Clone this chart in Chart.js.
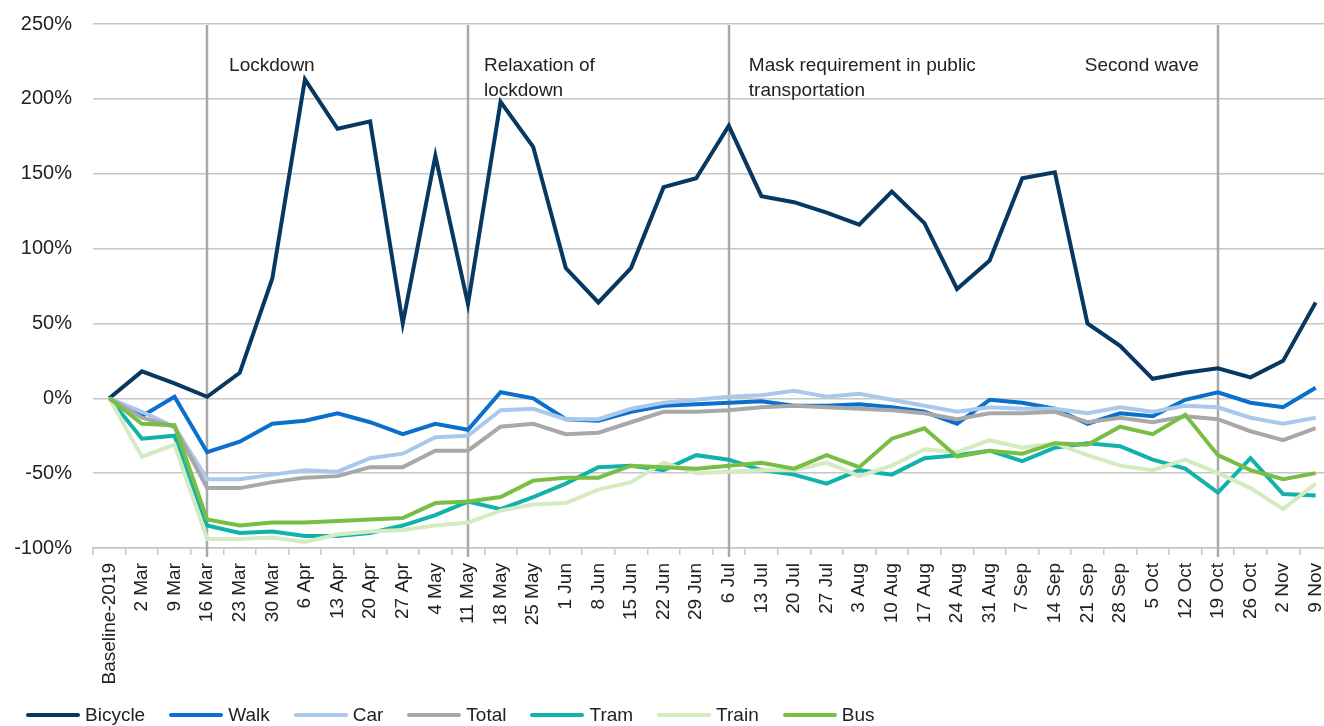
<!DOCTYPE html>
<html>
<head>
<meta charset="utf-8">
<script src="https://cdn.jsdelivr.net/npm/chart.js@4/dist/chart.umd.min.js"></script>
<style>
  body { margin: 0; overflow: hidden; background: #fff; font-family: "Liberation Sans", Arial, sans-serif; }
  #wrap { position: relative; width: 1332px; height: 726px; }
  #legend { position: absolute; left: 26px; top: 704px; display: flex; align-items: center; font-size: 19px; color: #222; }
  #legend .item { display: flex; align-items: center; margin-right: 24px; }
  #legend .swatch { width: 54px; height: 4px; border-radius: 2px; margin-right: 5px; }
</style>
</head>
<body>
<div id="wrap"><canvas id="chart" width="1332" height="726"></canvas></div>
<div id="legend"></div>
<script>
// weekly change vs. 2019 baseline, in percent
var weeks = ['Baseline-2019', '2 Mar', '9 Mar', '16 Mar', '23 Mar', '30 Mar', '6 Apr', '13 Apr', '20 Apr', '27 Apr',
  '4 May', '11 May', '18 May', '25 May', '1 Jun', '8 Jun', '15 Jun', '22 Jun', '29 Jun', '6 Jul', '13 Jul', '20 Jul',
  '27 Jul', '3 Aug', '10 Aug', '17 Aug', '24 Aug', '31 Aug', '7 Sep', '14 Sep', '21 Sep', '28 Sep', '5 Oct', '12 Oct',
  '19 Oct', '26 Oct', '2 Nov', '9 Nov'];

var bicycle = [0, 18, 10, 1, 17, 80, 213, 180, 185, 50, 162, 63, 198, 168, 87, 64, 87, 141, 147, 182, 135, 131,
  124, 116, 138, 117, 73, 92, 147, 151, 50, 35, 13, 17, 20, 14, 25, 64];
var walk = [0, -12, 1, -36, -29, -17, -15, -10, -16, -24, -17, -21, 4, 0, -14, -15, -9, -5, -4, -3, -2, -5,
  -5, -4, -6, -9, -17, -1, -3, -7, -17, -10, -12, -1, 4, -3, -6, 7];
var car = [0, -9, -19, -54, -54, -51, -48, -49, -40, -37, -26, -25, -8, -7, -14, -14, -7, -3, -1, 1, 2, 5,
  1, 3, -1, -5, -9, -6, -7, -7, -10, -6, -9, -5, -6, -13, -17, -13];
var total = [0, -13, -19, -60, -60, -56, -53, -52, -46, -46, -35, -35, -19, -17, -24, -23, -16, -9, -9, -8, -6, -5,
  -6, -7, -8, -10, -14, -10, -10, -9, -16, -13, -16, -12, -14, -22, -28, -20];
var tram = [0, -27, -25, -85, -90, -89, -92, -92, -90, -85, -78, -69, -74, -66, -57, -46, -45, -48, -38, -41, -48, -51,
  -57, -48, -51, -40, -38, -35, -42, -33, -30, -32, -41, -47, -63, -40, -64, -65];
var train = [0, -39, -31, -94, -94, -93, -96, -91, -89, -88, -85, -83, -75, -71, -70, -61, -56, -43, -50, -49, -48, -48,
  -43, -52, -45, -34, -36, -28, -33, -30, -38, -45, -48, -41, -50, -60, -74, -57];
var bus = [0, -17, -18, -81, -85, -83, -83, -82, -81, -80, -70, -69, -66, -55, -53, -53, -45, -46, -47, -45, -43, -47,
  -38, -46, -27, -20, -39, -35, -37, -30, -31, -19, -24, -11, -38, -48, -54, -50];

var seriesNames = ['Bicycle', 'Walk', 'Car', 'Total', 'Tram', 'Train', 'Bus'];
var seriesData = [bicycle, walk, car, total, tram, train, bus];
var seriesColors = ['#073862', '#0a70cc', '#aac8ec', '#a8a8a8', '#10b2aa', '#d4eac1', '#78be45'];

// policy milestones marked with a vertical rule
var events = [
  { week: '16 Mar', lines: ['Lockdown'], dx: 22 },
  { week: '11 May', lines: ['Relaxation of', 'lockdown'], dx: 16 },
  { week: '6 Jul', lines: ['Mask requirement in public', 'transportation'], dx: 20 },
  { week: '19 Oct', lines: ['Second wave'], dx: -19, align: 'right' }
];

var FONT = '"Liberation Sans", Arial, sans-serif';
var GRID = '#c6c6c6';

var eventsPlugin = {
  id: 'events',
  beforeDatasetsDraw: function (chart) {
    var ctx = chart.ctx,
        x = chart.scales.x,
        area = chart.chartArea;
    ctx.save();
    ctx.strokeStyle = '#a9a9a9';
    ctx.lineWidth = 2.5;
    events.forEach(function (ev) {
      var px = Math.round(x.getPixelForValue(weeks.indexOf(ev.week)));
      ctx.beginPath();
      ctx.moveTo(px, area.top + 1);
      ctx.lineTo(px, area.bottom + 9);
      ctx.stroke();
    });
    ctx.restore();
  },
  afterDatasetsDraw: function (chart) {
    var ctx = chart.ctx,
        x = chart.scales.x,
        area = chart.chartArea;
    ctx.save();
    ctx.fillStyle = '#222';
    ctx.font = '19px ' + FONT;
    ctx.textBaseline = 'middle';
    events.forEach(function (ev) {
      var px = x.getPixelForValue(weeks.indexOf(ev.week)) + ev.dx;
      ctx.textAlign = ev.align || 'left';
      ev.lines.forEach(function (line, i) {
        ctx.fillText(line, px, area.top + 42 + i * 25);
      });
    });
    ctx.restore();
  }
};

// keep the plot box fixed: no extra room reserved for edge labels
var noEdgePadding = function (scale) {
  scale.paddingTop = 0;
  scale.paddingBottom = 0;
  scale.paddingLeft = 0;
  scale.paddingRight = 0;
};

var datasets = seriesNames.map(function (name, i) {
  return {
    label: name,
    data: seriesData[i],
    borderColor: seriesColors[i],
    backgroundColor: seriesColors[i],
    borderWidth: 4,
    pointRadius: 0,
    tension: 0,
    fill: false,
    // later series sit on top
    order: seriesNames.length - i
  };
});

new Chart(document.getElementById('chart'), {
  type: 'line',
  data: { labels: weeks, datasets: datasets },
  plugins: [eventsPlugin],
  options: {
    responsive: false,
    animation: false,
    devicePixelRatio: 1,
    layout: { padding: { top: 24, right: 0, bottom: 0, left: 0 } },
    plugins: {
      legend: { display: false },
      tooltip: { enabled: false }
    },
    scales: {
      x: {
        offset: true,
        afterFit: function (scale) { scale.height = 178; noEdgePadding(scale); },
        grid: { offset: true, drawOnChartArea: false, drawTicks: true, tickLength: 7, color: GRID, lineWidth: 1.5 },
        border: { display: true, color: GRID, width: 1.5 },
        ticks: {
          autoSkip: false, maxRotation: 90, minRotation: 90, padding: 8,
          color: '#222', font: { family: FONT, size: 19 }
        }
      },
      y: {
        min: -100,
        max: 250,
        afterFit: function (scale) { scale.width = 93; noEdgePadding(scale); },
        grid: { color: GRID, lineWidth: 1.5, drawTicks: false },
        border: { display: false },
        ticks: {
          stepSize: 50, padding: 21, color: '#222', font: { family: FONT, size: 20 },
          callback: function (v) { return v + '%'; }
        }
      }
    }
  }
});

// legend row
var legend = document.getElementById('legend');
seriesNames.forEach(function (name, i) {
  var item = document.createElement('div'),
      swatch = document.createElement('span'),
      text = document.createElement('span');
  item.className = 'item';
  swatch.className = 'swatch';
  swatch.style.background = seriesColors[i];
  text.textContent = name;
  item.appendChild(swatch);
  item.appendChild(text);
  legend.appendChild(item);
});
</script>
</body>
</html>
